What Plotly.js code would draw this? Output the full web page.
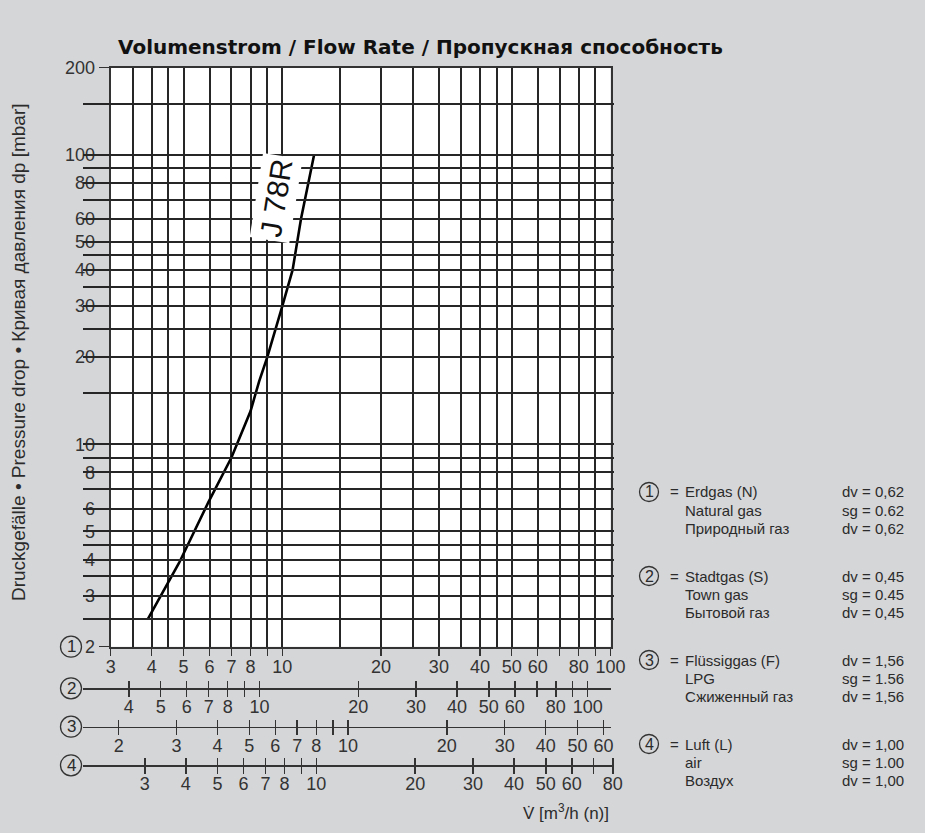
<!DOCTYPE html>
<html><head><meta charset="utf-8">
<script src="https://cdn.plot.ly/plotly-3.0.1.min.js"></script>
<style>html,body{margin:0;padding:0;background:#d5d6d8;}</style>
</head><body><div id="chart" style="width:925px;height:833px;"></div>
<script>
// ---------------- data ----------------
const flowNatural = [3.9, 4.85, 5.95, 7.0, 8.0, 8.5, 9.0, 9.55, 10.0, 10.75, 11.4, 12.5];
const pressureDrop = [2.5, 3.9, 6.3, 9.0, 13.0, 16.5, 20, 25, 30, 40, 60, 100];
const curveLabel = 'J 78R';

const gasNumbers = ['1', '2', '3', '4'];
const gasDe = ['Erdgas (N)', 'Stadtgas (S)', 'Flüssiggas (F)', 'Luft (L)'];
const gasEn = ['Natural gas', 'Town gas', 'LPG', 'air'];
const gasRu = ['Природный газ', 'Бытовой газ', 'Сжиженный газ', 'Воздух'];
const relDensity = [0.62, 0.45, 1.56, 1.00];

const yTickVals = [2, 3, 4, 5, 6, 7, 8, 9, 10, 20, 30, 40, 50, 60, 70, 80, 90, 100, 200];
const yTickText = ['2', '3', '4', '5', '6', '', '8', '', '10', '20', '30', '40', '50', '60', '', '80', '', '100', '200'];
const yMinorVals = [2.5, 3.5, 4.5, 15, 25, 35, 45, 150];

const row1TickVals = [3, 4, 5, 6, 7, 8, 9, 10, 20, 30, 40, 50, 60, 70, 80, 90, 100];
const row1TickText = ['3', '4', '5', '6', '7', '8', '', '10', '20', '30', '40', '50', '60', '', '80', '', '100'];
const xMinorVals = [3.5, 4.5, 15, 25, 35, 45];

const row2TickVals = [4, 5, 6, 7, 8, 9, 10, 20, 30, 40, 50, 60, 70, 80, 90, 100];
const row2TickText = ['4', '5', '6', '7', '8', '', '10', '20', '30', '40', '50', '60', '', '80', '', '100'];
const row3TickVals = [2, 3, 4, 5, 6, 7, 8, 9, 10, 20, 30, 40, 50, 60];
const row3TickText = ['2', '3', '4', '5', '6', '7', '8', '', '10', '20', '30', '40', '50', '60'];
const row4TickVals = [3, 4, 5, 6, 7, 8, 9, 10, 20, 30, 40, 50, 60, 70, 80];
const row4TickText = ['3', '4', '5', '6', '7', '8', '', '10', '20', '30', '40', '50', '60', '', '80'];

const titleText = 'Volumenstrom / Flow Rate / Пропускная способность';
const yTitleText = 'Druckgefälle • Pressure drop • Кривая давления dp [mbar]';
const xTitleText = 'V\u0307 [m<sup>3</sup>/h (n)]';

// ---------------- layout helpers ----------------
const W = 925, H = 833;
const FONT = 'Liberation Sans, Arial, sans-serif';
const TXT = '#2b2b2b';
const X0 = 110.7, X1 = 610.5, YT = 67.5, YB = 646.7;
const px = p => p / W;
const py = p => 1 - p / H;
const xLo = Math.log10(3), xHi = 2;
const decadePx = (X1 - X0) / (xHi - xLo);

function rowRange(a, b, g) {
  const s = 0.5 * Math.log10(relDensity[g] / relDensity[0]);
  return [xLo + (a - X0) / decadePx - s, xLo + (b - X0) / decadePx - s];
}

const tickFont = {family: FONT, size: 18, color: '#333'};
const gridCol = '#262626';
const gridW = 2;

const layout = {
  width: W, height: H,
  paper_bgcolor: '#d5d6d8',
  plot_bgcolor: 'rgba(0,0,0,0)',
  margin: {l: 0, r: 0, t: 0, b: 0},
  showlegend: false,
  title: {
    text: titleText, x: px(118), xanchor: 'left', y: py(47), yanchor: 'middle',
    xref: 'paper', yref: 'paper',
    font: {family: 'DejaVu Sans, sans-serif', size: 20, weight: 700, color: '#111'}
  },
  xaxis: {
    type: 'log', range: [xLo, xHi], domain: [px(X0), px(X1)], anchor: 'y',
    tickmode: 'array', tickvals: row1TickVals, ticktext: row1TickText,
    ticks: 'outside', ticklen: 7, tickwidth: 1.5, tickcolor: '#333', tickangle: 0,
    ticklabelstandoff: -4, tickfont: tickFont,
    showgrid: true, gridcolor: gridCol, gridwidth: gridW,
    minor: {tickmode: 'array', tickvals: xMinorVals, showgrid: true, gridcolor: gridCol, gridwidth: gridW, ticks: ''},
    showline: true, mirror: true, linecolor: '#333', linewidth: 2, zeroline: false, fixedrange: true
  },
  yaxis: {
    type: 'log', range: [Math.log10(2), Math.log10(200)], domain: [py(YB), py(YT)], anchor: 'x',
    tickmode: 'array', tickvals: yTickVals, ticktext: yTickText,
    ticks: 'outside', ticklen: 10, tickwidth: 1.5, tickcolor: '#333',
    tickfont: tickFont,
    showgrid: true, gridcolor: gridCol, gridwidth: gridW,
    minor: {tickmode: 'array', tickvals: yMinorVals, showgrid: true, gridcolor: gridCol, gridwidth: gridW, ticks: ''},
    showline: true, mirror: true, linecolor: '#333', linewidth: 2, zeroline: false, fixedrange: true
  },
  shapes: [
    {type: 'rect', xref: 'paper', yref: 'paper', x0: px(X0), x1: px(X1), y0: py(YB), y1: py(YT),
     fillcolor: '#ffffff', line: {width: 0}, layer: 'below'}
  ],
  annotations: []
};

const traces = [{
  type: 'scatter', mode: 'lines', x: flowNatural, y: pressureDrop, xaxis: 'x', yaxis: 'y',
  line: {color: '#000', width: 2.6}, hoverinfo: 'skip', cliponaxis: true
}];

// secondary scales for gases 2..4
const rowDefs = [
  {g: 1, y: 688.3, a: 82.7, b: 611, vals: row2TickVals, text: row2TickText},
  {g: 2, y: 726.7, a: 82.7, b: 611, vals: row3TickVals, text: row3TickText},
  {g: 3, y: 765.3, a: 82.7, b: 614, vals: row4TickVals, text: row4TickText}
];
rowDefs.forEach((r, i) => {
  const rng = rowRange(r.a, r.b, r.g);
  const mainId = i + 2, overId = i + 5;
  layout['xaxis' + mainId] = {
    type: 'log', range: rng, domain: [px(r.a), px(r.b)], anchor: 'free', position: py(r.y), side: 'bottom',
    tickmode: 'array', tickvals: r.vals, ticktext: r.text,
    ticks: 'outside', ticklen: 7, tickwidth: 1.5, tickcolor: '#333', tickangle: 0,
    ticklabelstandoff: -5, tickfont: tickFont,
    showgrid: false, zeroline: false, showline: true, linecolor: '#333', linewidth: 1.5, fixedrange: true
  };
  layout['xaxis' + overId] = {
    type: 'log', range: rng, overlaying: 'x' + mainId, anchor: 'free', position: py(r.y), side: 'bottom',
    tickmode: 'array', tickvals: r.vals, ticktext: r.vals.map(() => ''),
    ticks: 'inside', ticklen: 7, tickwidth: 1.5, tickcolor: '#333', showticklabels: false,
    showgrid: false, zeroline: false, showline: false, fixedrange: true
  };
  // invisible carrier traces so the scale axes are drawn
  [mainId, overId].forEach(id => traces.push({
    type: 'scatter', mode: 'markers', x: r.vals, y: r.vals.map(() => 2), xaxis: 'x' + id, yaxis: 'y',
    marker: {opacity: 0, size: 1}, hoverinfo: 'skip', showlegend: false
  }));
});

// circle markers with numbers
function circleLabel(cx, cy, r, num, size) {
  layout.shapes.push({type: 'circle', xref: 'paper', yref: 'paper',
    x0: px(cx - r), x1: px(cx + r), y0: py(cy + r), y1: py(cy - r),
    line: {color: '#333', width: 1.3}, fillcolor: 'rgba(0,0,0,0)', layer: 'above'});
  layout.annotations.push({text: num, xref: 'paper', yref: 'paper', x: px(cx), y: py(cy),
    xanchor: 'center', yanchor: 'middle', showarrow: false, font: {family: FONT, size: size, color: TXT}});
}
const rowCircleY = [646.7, 688.3, 726.7, 765.3];
gasNumbers.forEach((n, i) => circleLabel(71, rowCircleY[i], 10.5, n, 17));

// gas legend at the right
const fmtDe = v => v.toFixed(2).replace('.', ',');
const fmtEn = v => v.toFixed(2);
gasNumbers.forEach((n, i) => {
  const y0 = 492 + i * 84, step = 18.3;
  circleLabel(649, y0, 9.5, n, 16);
  const names = [gasDe[i], gasEn[i], gasRu[i]];
  const vals = ['dv = ' + fmtDe(relDensity[i]), 'sg = ' + fmtEn(relDensity[i]), 'dv = ' + fmtDe(relDensity[i])];
  layout.annotations.push({text: '=', xref: 'paper', yref: 'paper', x: px(668), y: py(y0),
    xanchor: 'left', yanchor: 'middle', showarrow: false, font: {family: FONT, size: 15, color: TXT}});
  names.forEach((t, j) => {
    layout.annotations.push({text: t, xref: 'paper', yref: 'paper', x: px(683), y: py(y0 + j * step),
      xanchor: 'left', yanchor: 'middle', showarrow: false, font: {family: FONT, size: 15, color: TXT}});
    layout.annotations.push({text: vals[j], xref: 'paper', yref: 'paper', x: px(906), y: py(y0 + j * step),
      xanchor: 'right', yanchor: 'middle', showarrow: false, font: {family: FONT, size: 15, color: TXT}});
  });
});

// axis titles
layout.annotations.push({text: yTitleText, xref: 'paper', yref: 'paper', x: px(18), y: py(352),
  xanchor: 'center', yanchor: 'middle', textangle: -90, showarrow: false,
  font: {family: FONT, size: 19, color: TXT}});
layout.annotations.push({text: xTitleText, xref: 'paper', yref: 'paper', x: px(611), y: py(812),
  xanchor: 'right', yanchor: 'middle', showarrow: false,
  font: {family: FONT, size: 17, color: TXT}});

// curve label
layout.annotations.push({text: curveLabel, xref: 'x', yref: 'y', x: Math.log10(9.6), y: Math.log10(71),
  xanchor: 'center', yanchor: 'middle', textangle: -81, showarrow: false, bgcolor: '#ffffff', borderpad: 3,
  font: {family: FONT, size: 30, color: '#111'}});

Plotly.newPlot('chart', traces, layout, {staticPlot: true, displayModeBar: false});
</script>
</body></html>
